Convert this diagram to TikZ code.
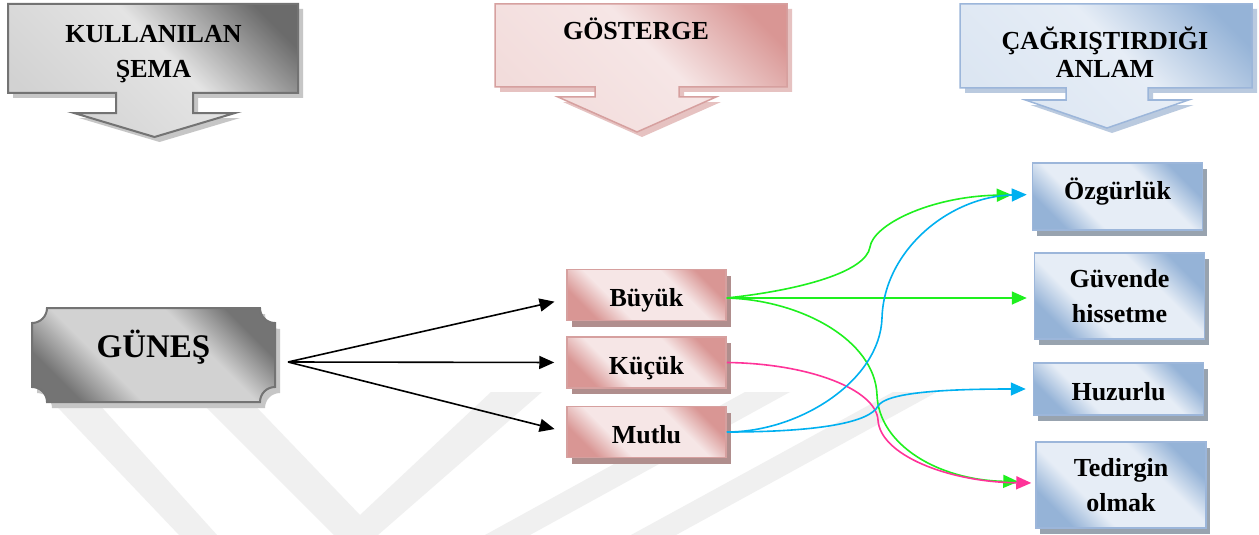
\documentclass[tikz,border=0pt]{standalone}
\usepackage{fontspec}
\setmainfont{Liberation Serif}
\usetikzlibrary{arrows.meta,shadows}

\definecolor{graydark}{HTML}{6B6B6B}
\definecolor{graymid}{HTML}{747474}
\definecolor{graylight}{HTML}{D2D2D2}
\definecolor{graybright}{HTML}{E4E4E4}
\definecolor{grayedge}{HTML}{737373}
\definecolor{grayhalo}{HTML}{C6C6C6}
\definecolor{pinkdark}{HTML}{D99694}
\definecolor{pinklight}{HTML}{F2DCDB}
\definecolor{pinkbright}{HTML}{F6E6E6}
\definecolor{pinkedge}{HTML}{D6A09F}
\definecolor{pinkshade}{HTML}{B08E8D}
\definecolor{pinkhalo}{HTML}{E6C2C1}
\definecolor{bluedark}{HTML}{95B3D7}
\definecolor{bluelight}{HTML}{DCE6F2}
\definecolor{bluebright}{HTML}{E6EDF6}
\definecolor{blueedge}{HTML}{9CB6DA}
\definecolor{blueshade}{HTML}{98A3AF}
\definecolor{bluehalo}{HTML}{BACADF}
\definecolor{markgray}{HTML}{F0F0F0}
\definecolor{linegreen}{HTML}{1EF01E}
\definecolor{linecyan}{HTML}{00B0F0}
\definecolor{linepink}{HTML}{FF3399}

\pgfdeclarehorizontalshading{headgray}{100bp}{color(0bp)=(graylight); color(25bp)=(graylight); color(55bp)=(graybright); color(78bp)=(graydark); color(100bp)=(graydark)}
\pgfdeclarehorizontalshading{headpink}{100bp}{color(0bp)=(pinklight); color(25bp)=(pinklight); color(55bp)=(pinkbright); color(78bp)=(pinkdark); color(100bp)=(pinkdark)}
\pgfdeclarehorizontalshading{headblue}{100bp}{color(0bp)=(bluelight); color(25bp)=(bluelight); color(55bp)=(bluebright); color(78bp)=(bluedark); color(100bp)=(bluedark)}
\pgfdeclarehorizontalshading{reflgray}{100bp}{color(0bp)=(graymid); color(25bp)=(graymid); color(38bp)=(graylight); color(62bp)=(graylight); color(75bp)=(graymid); color(100bp)=(graymid)}
\pgfdeclarehorizontalshading{reflpink}{100bp}{color(0bp)=(pinkdark); color(25bp)=(pinkdark); color(37bp)=(pinkbright); color(63bp)=(pinkbright); color(75bp)=(pinkdark); color(100bp)=(pinkdark)}
\pgfdeclarehorizontalshading{reflblue}{100bp}{color(0bp)=(bluedark); color(25bp)=(bluedark); color(37bp)=(bluebright); color(63bp)=(bluebright); color(75bp)=(bluedark); color(100bp)=(bluedark)}

% box with a down arrow: x1, x2, box bottom, centre, stem half width, wing half width, wing y, tip y
\def\headarrow[#1](#2,#3,#4,#5,#6,#7,#8,#9){\path[#1] (#2,4) -- (#3,4) -- (#3,#4) -- ({#5+#6},#4) -- ({#5+#6},#8) -- ({#5+#7},#8) -- (#5,#9) -- ({#5-#7},#8) -- ({#5-#6},#8) -- ({#5-#6},#4) -- (#2,#4) -- cycle;}
% plaque with hollow corners: x1, y1, x2, y2, r
\def\plaque[#1](#2,#3,#4,#5,#6){\path[#1] ({#2+#6},#3) -- ({#4-#6},#3) .. controls ({#4-#6},{#3+0.552*#6}) and ({#4-0.552*#6},{#3+#6}) .. (#4,{#3+#6}) -- (#4,{#5-#6}) .. controls ({#4-0.552*#6},{#5-#6}) and ({#4-#6},{#5-0.552*#6}) .. ({#4-#6},#5) -- ({#2+#6},#5) .. controls ({#2+#6},{#5-0.552*#6}) and ({#2+0.552*#6},{#5-#6}) .. (#2,{#5-#6}) -- (#2,{#3+#6}) .. controls ({#2+0.552*#6},{#3+#6}) and ({#2+#6},{#3+0.552*#6}) .. ({#2+#6},#3) -- cycle;}

\tikzset{
	boxfont/.style={font=\fontsize{26}{35}\selectfont\bfseries},
	headtext/.style={boxfont, align=center, inner sep=0pt},
	pinkbox/.style={boxfont, shade, shading=reflpink, shading angle=45, draw=pinkedge, line width=1.5pt,
		minimum width=159pt, minimum height=51pt, text height=23pt, text depth=0pt,
		drop shadow={shadow xshift=5pt, shadow yshift=-6pt, fill=pinkshade, opacity=1}},
	bluebox/.style={boxfont, align=center, shade, shading=reflblue, shading angle=45, draw=blueedge, line width=1.5pt,
		minimum width=170pt, inner sep=0pt,
		drop shadow={shadow xshift=4pt, shadow yshift=-6pt, fill=blueshade, opacity=1}},
	blackarrow/.style={draw=black, line width=1.6pt, -{Triangle[length=15pt,width=13pt]}},
	greenarrow/.style={draw=linegreen, line width=1.6pt, -{Triangle[length=15pt,width=13pt]}},
	cyanarrow/.style={draw=linecyan, line width=1.6pt, -{Triangle[length=15pt,width=13pt]}},
	pinkarrow/.style={draw=linepink, line width=1.6pt, -{Triangle[length=15pt,width=13pt]}}
}

\begin{document}
\begin{tikzpicture}[x=1pt, y=-1pt]
			%%%%% START %%%%%
			\useasboundingbox (0,0) rectangle (1259,535);
			\fill[white] (0,0) rectangle (1259,535);
			
			% faint stripes in the background
			\fill[markgray] (43,392) -- (88,392) -- (217,535) -- (179,535) -- cycle;
			\fill[markgray] (191,392) -- (242,392) -- (360,515) -- (491,392) -- (542,392) -- (378,535) -- (334,535) -- cycle;
			\fill[markgray] (485,535) -- (530,535) -- (790,392) -- (745,392) -- cycle;
			\fill[markgray] (631,535) -- (676,535) -- (937,392) -- (893,392) -- cycle;
			
			% headings
			\headarrow[fill=grayhalo, xshift=5pt, yshift=-5pt](8,298,93,154.5,38.5,80.5,113,137)
			\headarrow[shade, shading=headgray, shading angle=45, draw=grayedge, line width=2pt](8,298,93,154.5,38.5,80.5,113,137)
			\node[headtext] (head1) at (153.5,53.7) {KULLANILAN\\ŞEMA};
			
			\headarrow[fill=pinkhalo, xshift=5pt, yshift=-5pt](495,787,87,637,42,79,97,132)
			\headarrow[shade, shading=headpink, shading angle=45, draw=pinkedge, line width=1.5pt](495,787,87,637,42,79,97,132)
			\node[headtext, text height=17.2pt, text depth=0pt] (head2) at (636,31.4) {GÖSTERGE};
			
			\headarrow[fill=bluehalo, xshift=5pt, yshift=-5pt](960,1252,88,1107,41,81.5,100,128)
			\headarrow[shade, shading=headblue, shading angle=45, draw=blueedge, line width=1.5pt](960,1252,88,1107,41,81.5,100,128)
			\node[headtext, font=\fontsize{26}{28}\selectfont\bfseries] (head3) at (1105,52.7) {ÇAĞRIŞTIRDIĞI\\ANLAM};
			
			% GÜNEŞ
			\plaque[fill=grayhalo, xshift=5pt, yshift=-6pt](32,308,275,402,15)
			\plaque[shade, shading=reflgray, shading angle=45, draw=grayedge, line width=2pt](32,308,275,402,15)
			\node[font=\fontsize{33}{38}\selectfont\bfseries, text height=21.8pt, text depth=0pt] (gunes) at (153.5,347) {GÜNEŞ};
			\coordinate (fan) at (288,362);
			
			% signs
			\node[pinkbox] (buyuk) at (646.5,295) {Büyük};
			\node[pinkbox] (kucuk) at (646.5,362.5) {Küçük};
			\node[pinkbox] (mutlu) at (646.5,432) {Mutlu};
			
			% meanings
			\node[bluebox, minimum height=67pt, text height=17pt, text depth=11pt] (ozgur) at (1117.5,196.5) {Özgürlük};
			\node[bluebox, minimum height=86pt] (guven) at (1119.5,296) {Güvende\\hissetme};
			\node[bluebox, minimum height=52pt, text height=23pt, text depth=0pt] (huzur) at (1118.5,389) {Huzurlu};
			\node[bluebox, minimum height=86pt] (tedir) at (1121,485) {Tedirgin\\olmak};
			
			% GÜNEŞ to the signs
			\draw[blackarrow, shorten >=12pt] (fan) -- ([yshift=-4pt]buyuk.west);
			\draw[blackarrow, shorten >=12pt] (fan) -- (kucuk.west);
			\draw[blackarrow, shorten >=12pt] (fan) -- (mutlu.west);
			
			% signs to the meanings
			\coordinate (gbend) at (870,247);
			\coordinate (gdrop) at (877,395);
			\coordinate (cbend) at (882,318);
			\coordinate (cdip) at (878,406);
			\coordinate (pdrop) at (878,420);
			
			\draw[greenarrow, shorten >=20pt] ([yshift=-3pt]buyuk.east) .. controls +(74,-8) and +(-4,25) .. (gbend) .. controls +(3,-22) and +(-102,2) .. ([yshift=2pt]ozgur.west);
			\draw[greenarrow, shorten >=7pt] ([yshift=-3pt]buyuk.east) -- ([yshift=-2pt]guven.west);
			\draw[greenarrow, shorten >=17pt] ([yshift=-3pt]buyuk.east) .. controls +(74,2) and +(-2,-55) .. (gdrop) .. controls +(2,50) and +(-97,-2) .. ([yshift=3pt]tedir.west);
			\draw[pinkarrow, shorten >=4pt] (kucuk.east) .. controls +(84,1) and +(-2,-30) .. (pdrop) .. controls +(2,35) and +(-87,-1) .. ([yshift=2pt]tedir.west);
			\draw[cyanarrow, shorten >=5pt] (mutlu.east) .. controls +(74,0) and +(-2,62) .. (cbend) .. controls +(2,-68) and +(-82,2) .. ([yshift=2pt]ozgur.west);
			\draw[cyanarrow, shorten >=7pt] (mutlu.east) .. controls +(94,0) and +(-8,16) .. (cdip) .. controls +(8,-13) and +(-94,0) .. (huzur.west);
			
			%%%%% END %%%%%
\end{tikzpicture}
\end{document}
